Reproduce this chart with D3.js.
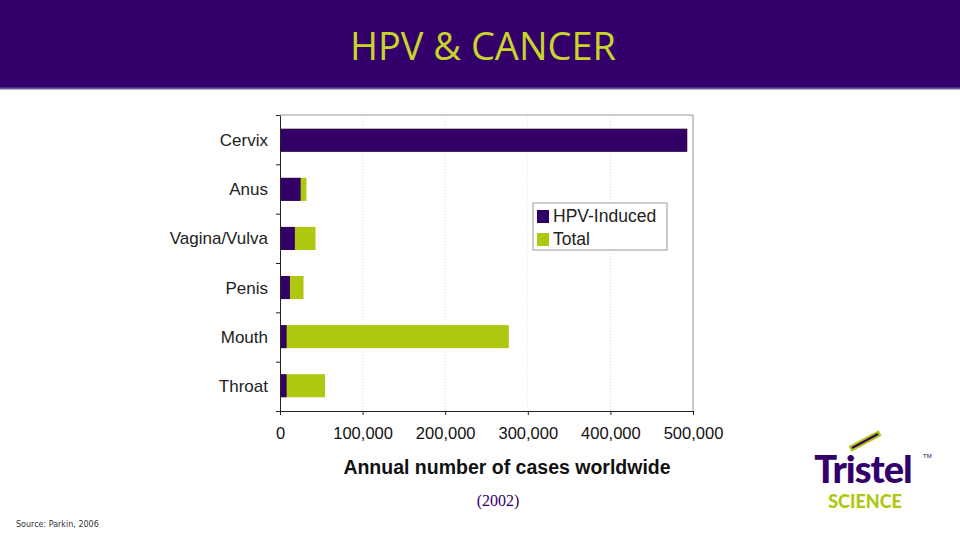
<!DOCTYPE html>
<html><head><meta charset="utf-8">
<script src="https://cdn.jsdelivr.net/npm/d3@7"></script>
<style>body{margin:0;background:#fff}</style>
</head><body>
<div id="chart"></div>
<script>
const categories = ["Cervix", "Anus", "Vagina/Vulva", "Penis", "Mouth", "Throat"];
const hpvInduced = [493000, 25000, 18000, 12000, 8000, 8000];
const totals = [493000, 32000, 43000, 28500, 277000, 54500];
const xTicks = [0, 100000, 200000, 300000, 400000, 500000];

const width = 960, height = 540;
const svg = d3.select("#chart").append("svg").attr("width", width).attr("height", height);

// header band
svg.append("rect").attr("x", 0).attr("y", 0).attr("width", width).attr("height", 88).attr("fill", "#33006b");
svg.append("line").attr("x1", 0).attr("x2", width).attr("y1", 88.5).attr("y2", 88.5).attr("stroke", "#6a5a9a").attr("stroke-width", 2);
svg.append("text").attr("x", 483).attr("y", 60).attr("text-anchor", "middle")
  .attr("font-family", "Open Sans, sans-serif").attr("font-size", 38).attr("fill", "#c8d42a").text("HPV & CANCER");

const pLeft = 280, pRight = 693, pTop = 115, pBottom = 411;
const x = d3.scaleLinear().domain([0, 500000]).range([pLeft, pRight]);
const y = d3.scaleBand().domain(categories).range([pTop, pBottom]).paddingInner(0.53).paddingOuter(0.28);

// grid
svg.append("g").selectAll("line").data(xTicks.slice(1, -1)).join("line")
  .attr("x1", d => x(d)).attr("x2", d => x(d)).attr("y1", pTop).attr("y2", pBottom)
  .attr("stroke", "#ddd").attr("stroke-dasharray", "1,2");
// frame
svg.append("path").attr("d", `M${pLeft},${pTop}H${pRight}V${pBottom}`).attr("fill", "none").attr("stroke", "#999");

svg.append("g").selectAll("rect").data(categories).join("rect")
  .attr("x", x(0)).attr("y", d => y(d)).attr("height", y.bandwidth())
  .attr("width", (d, i) => x(totals[i]) - x(0)).attr("fill", "#afc80f");
svg.append("g").selectAll("rect").data(categories).join("rect")
  .attr("x", x(0)).attr("y", d => y(d)).attr("height", y.bandwidth())
  .attr("width", (d, i) => x(hpvInduced[i]) - x(0)).attr("fill", "#330066");

const font = "Liberation Sans, Arial, sans-serif";
svg.append("g").attr("transform", `translate(0,${pBottom})`)
  .call(d3.axisBottom(x).tickValues(xTicks).tickSize(4).tickSizeOuter(0).tickPadding(12).tickFormat(d3.format(",")))
  .call(g => g.selectAll("text").attr("font-family", font).attr("font-size", 16.5).attr("fill", "#111"))
  .call(g => g.selectAll("line,path").attr("stroke", "#222"));

const yAxisScale = d3.scaleLinear().domain([0, 6]).range([pTop, pBottom]);
svg.append("g").attr("transform", `translate(${pLeft},0)`)
  .call(d3.axisLeft(yAxisScale).ticks(6).tickSize(4).tickSizeOuter(0).tickFormat(""))
  .call(g => g.selectAll("line,path").attr("stroke", "#222"));
svg.append("g").selectAll("text").data(categories).join("text")
  .attr("x", 268).attr("y", d => y(d) + y.bandwidth() / 2 + 6).attr("text-anchor", "end")
  .attr("font-family", font).attr("font-size", 17).attr("fill", "#222").text(d => d);

svg.append("text").attr("x", 507).attr("y", 474).attr("text-anchor", "middle")
  .attr("font-family", font).attr("font-size", 19.5).attr("font-weight", "bold").attr("fill", "#111")
  .text("Annual number of cases worldwide");

// legend
const lg = svg.append("g").attr("transform", "translate(533,203)");
lg.append("rect").attr("width", 134).attr("height", 47).attr("fill", "#fff").attr("stroke", "#999");
[["HPV-Induced", "#330066"], ["Total", "#afc80f"]].forEach(([t, c], i) => {
  lg.append("rect").attr("x", 4).attr("y", 7 + i * 23).attr("width", 12).attr("height", 13).attr("fill", c);
  lg.append("text").attr("x", 20).attr("y", 19 + i * 23).attr("font-family", font).attr("font-size", 17.5).attr("fill", "#222").text(t);
});

svg.append("text").attr("x", 498).attr("y", 506).attr("text-anchor", "middle")
  .attr("font-family", "Liberation Serif, serif").attr("font-size", 16).attr("fill", "#33006b").text("(2002)");
svg.append("text").attr("x", 16).attr("y", 527).attr("font-family", "DejaVu Sans, sans-serif")
  .attr("font-size", 8).attr("fill", "#333").text("Source: Parkin, 2006");

// logo
const logo = svg.append("g");
logo.append("line").attr("x1", 850).attr("y1", 449).attr("x2", 880).attr("y2", 433).attr("stroke", "#afc80f").attr("stroke-width", 6);
logo.append("line").attr("x1", 852).attr("y1", 448).attr("x2", 878).attr("y2", 434).attr("stroke", "#33006b").attr("stroke-width", 2);
logo.append("text").attr("x", 863).attr("y", 483).attr("text-anchor", "middle").attr("font-family", "Lato, sans-serif")
  .attr("font-weight", 900).attr("font-size", 38).attr("fill", "#33006b").attr("letter-spacing", -1).text("Tristel");
logo.append("text").attr("x", 865).attr("y", 508).attr("text-anchor", "middle").attr("font-family", "Lato, sans-serif")
  .attr("font-weight", 900).attr("font-size", 18).attr("fill", "#afc80f").text("SCIENCE");
logo.append("text").attr("x", 923).attr("y", 458).attr("font-family", font).attr("font-size", 6).attr("fill", "#33006b").text("TM");
</script>
</body></html>
